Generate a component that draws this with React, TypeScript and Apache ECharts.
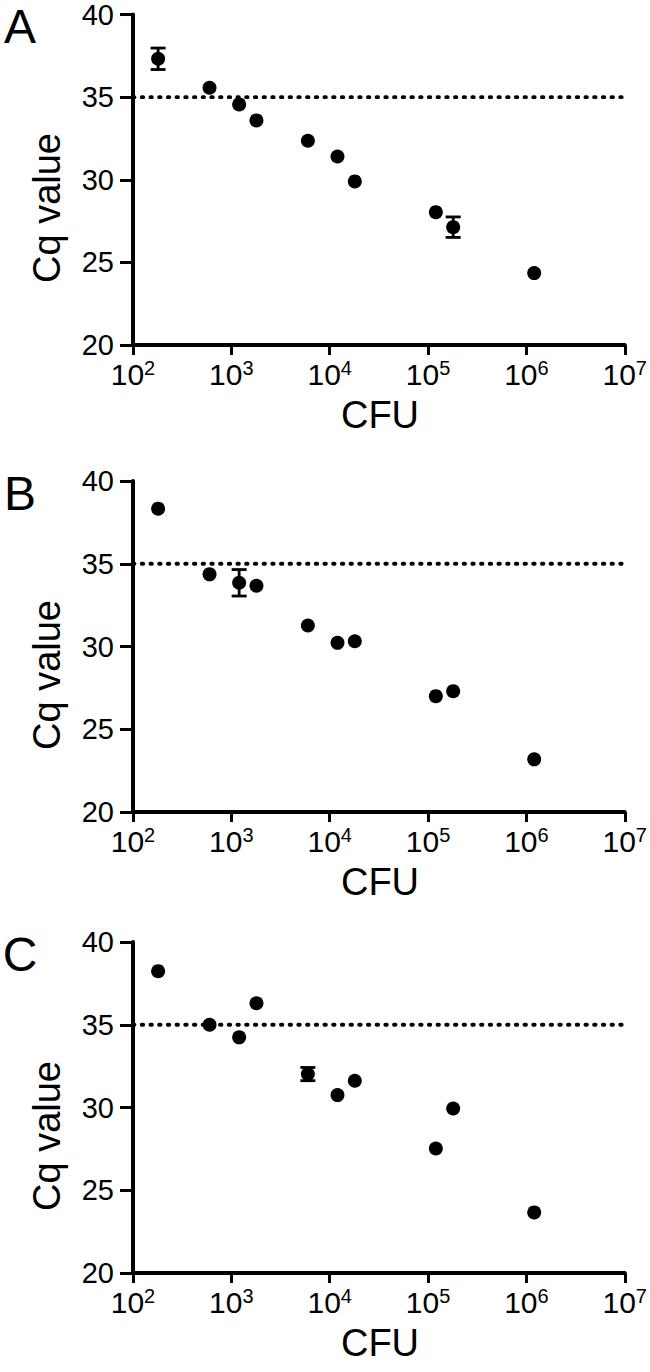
import React, { useEffect, useRef } from "react";
import * as echarts from "echarts";

// ---- data ----
const cfu = [180, 600, 1200, 1800, 6000, 12000, 18000, 120000, 180000, 1200000];
const cqA = [37.32, 35.57, 34.56, 33.59, 32.36, 31.41, 29.9, 28.04, 27.13, 24.35];
const errA = [0.65, 0, 0, 0, 0, 0, 0, 0, 0.62, 0];
const cqB = [38.33, 34.36, 33.85, 33.67, 31.27, 30.22, 30.32, 27.0, 27.3, 23.18];
const errB = [0, 0, 0.8, 0, 0, 0, 0, 0, 0, 0];
const cqC = [38.24, 35.0, 34.24, 36.3, 32.02, 30.75, 31.62, 27.52, 29.94, 23.66];
const errC = [0, 0, 0, 0, 0.4, 0, 0, 0, 0, 0];
const threshold = 35;
const panelLetters = ["A", "B", "C"];
const yMin = 20;
const yMax = 40;
const yStep = 5;
const xMin = 100;
const xMax = 10000000;
const xTitle = "CFU";
const yTitle = "Cq value";

const FONT = '"Liberation Sans", Arial, Helvetica, sans-serif';

const panels = [
  { cq: cqA, err: errA },
  { cq: cqB, err: errB },
  { cq: cqC, err: errC },
];

const gridTops = [14, 481, 942];
const GRID_LEFT = 133;
const GRID_W = 494;
const GRID_H = 331;

export default function App() {
  const ref = useRef<HTMLDivElement>(null);

  useEffect(() => {
    if (!ref.current) return;
    const chart = echarts.init(ref.current, undefined, { renderer: "svg" });

    const grids: any[] = [];
    const xAxes: any[] = [];
    const yAxes: any[] = [];
    const series: any[] = [];
    const graphics: any[] = [];

    panels.forEach((p, i) => {
      const top = gridTops[i];
      grids.push({ left: GRID_LEFT, top, width: GRID_W, height: GRID_H });
      xAxes.push({
        gridIndex: i,
        type: "log",
        logBase: 10,
        min: xMin,
        max: xMax,
        axisLine: { show: true, lineStyle: { color: "#000", width: 4 } },
        axisTick: { show: true, length: 10, lineStyle: { color: "#000", width: 3 } },
        minorTick: { show: false },
        splitLine: { show: false },
        axisLabel: {
          margin: 13,
          color: "#000",
          formatter: (v: number) => `{b|10}{s|${Math.round(Math.log10(v))}}`,
          rich: {
            b: { fontSize: 30, fontFamily: FONT, color: "#000", lineHeight: 32 },
            s: { fontSize: 20, fontFamily: FONT, color: "#000", lineHeight: 20, verticalAlign: "top" },
          },
        },
      });
      yAxes.push({
        gridIndex: i,
        type: "value",
        min: yMin,
        max: yMax,
        interval: yStep,
        axisLine: { show: true, lineStyle: { color: "#000", width: 4 } },
        axisTick: { show: true, length: 13, lineStyle: { color: "#000", width: 3 } },
        splitLine: { show: false },
        axisLabel: { margin: 19, color: "#000", fontSize: 29, fontFamily: FONT },
      });

      // threshold dotted line
      series.push({
        type: "line",
        xAxisIndex: i,
        yAxisIndex: i,
        data: [
          [xMin, threshold],
          [xMax, threshold],
        ],
        symbol: "none",
        silent: true,
        z: 1,
        lineStyle: { color: "#000", width: 3.8, type: [1.5, 7.2], cap: "round" },
      });

      // error bars
      const errData = cfu
        .map((x, k) => [x, p.cq[k], p.err[k]])
        .filter((d) => d[2] > 0);
      series.push({
        type: "custom",
        xAxisIndex: i,
        yAxisIndex: i,
        z: 2,
        data: errData,
        renderItem: (params: any, api: any) => {
          const x = api.value(0);
          const y = api.value(1);
          const e = api.value(2);
          const t = api.coord([x, y + e]);
          const b = api.coord([x, y - e]);
          const hw = 7.5;
          const st = { stroke: "#000", lineWidth: 2.8 };
          return {
            type: "group",
            children: [
              { type: "line", shape: { x1: t[0], y1: t[1], x2: b[0], y2: b[1] }, style: st },
              { type: "line", shape: { x1: t[0] - hw, y1: t[1], x2: t[0] + hw, y2: t[1] }, style: st },
              { type: "line", shape: { x1: b[0] - hw, y1: b[1], x2: b[0] + hw, y2: b[1] }, style: st },
            ],
          };
        },
      });

      // points
      series.push({
        type: "scatter",
        xAxisIndex: i,
        yAxisIndex: i,
        z: 3,
        symbol: "circle",
        symbolSize: 14,
        itemStyle: { color: "#000", opacity: 1 },
        data: cfu.map((x, k) => [x, p.cq[k]]),
      });

      const off = top - gridTops[0];
      graphics.push({
        type: "text",
        x: 20,
        y: 26 + off,
        style: {
          text: panelLetters[i],
          fontSize: 48,
          fontFamily: FONT,
          fill: "#000",
          align: "center",
          verticalAlign: "middle",
        },
      });
      graphics.push({
        type: "text",
        x: 380,
        y: 415 + off,
        style: {
          text: xTitle,
          fontSize: 38,
          fontFamily: FONT,
          fill: "#000",
          align: "center",
          verticalAlign: "middle",
        },
      });
      graphics.push({
        type: "text",
        x: 47,
        y: 208 + off,
        rotation: Math.PI / 2,
        style: {
          text: yTitle,
          fontSize: 38,
          fontFamily: FONT,
          fill: "#000",
          align: "center",
          verticalAlign: "middle",
        },
      });
    });

    chart.setOption({
      animation: false,
      backgroundColor: "#fff",
      grid: grids,
      xAxis: xAxes,
      yAxis: yAxes,
      series,
      graphic: graphics,
    });

    return () => chart.dispose();
  }, []);

  return (
    <div
      ref={ref}
      style={{ position: "absolute", left: 0, top: 0, width: 650, height: 1372 }}
    />
  );
}
